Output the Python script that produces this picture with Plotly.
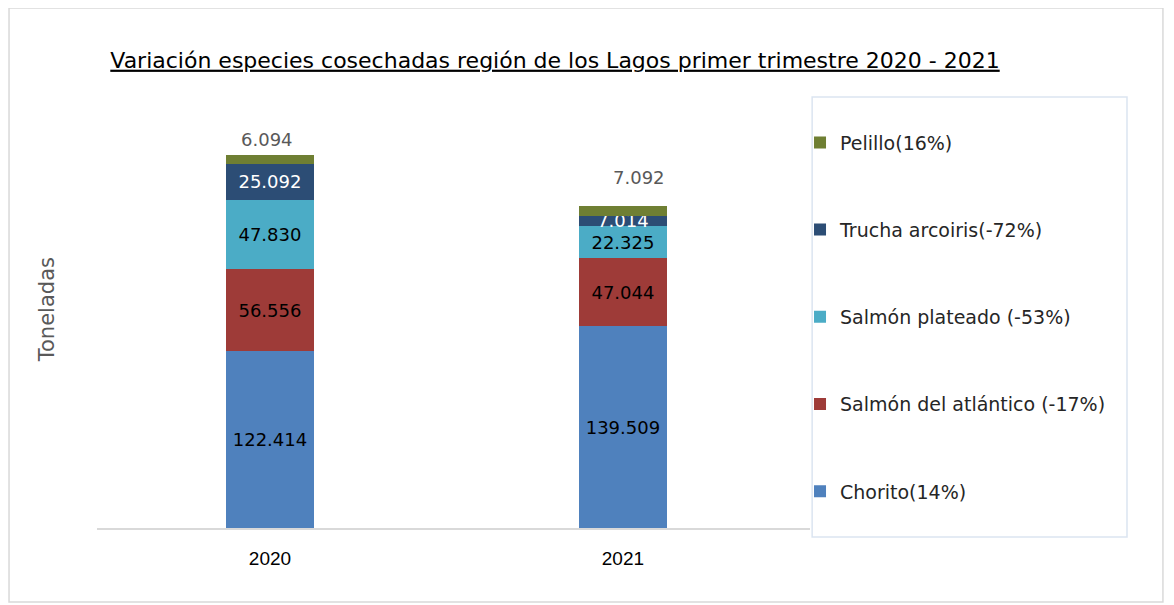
import plotly.graph_objects as go

years = ["2020", "2021"]
species = ["Chorito(14%)", "Salmón del atlántico (-17%)", "Salmón plateado (-53%)",
           "Trucha arcoiris(-72%)", "Pelillo(16%)"]
chorito = [122414, 139509]
salmon_atlantico = [56556, 47044]
salmon_plateado = [47830, 22325]
trucha = [25092, 7014]
pelillo = [6094, 7092]

series = [chorito, salmon_atlantico, salmon_plateado, trucha, pelillo]
colors = ["#4f81bd", "#9e3b38", "#4bacc6", "#2c4d75", "#6f7f33"]
text_colors = ["#000000", "#000000", "#000000", "#ffffff", None]

FONT = "DejaVu Sans"

def fmt(v):
    return f"{v:,}".replace(",", ".")

fig = go.Figure()
n = len(species)
for i, (name, vals) in enumerate(zip(species, series)):
    show_text = text_colors[i] is not None
    fig.add_trace(go.Bar(
        x=years, y=vals, name=name, legendgroup=name, legendrank=n - i,
        marker=dict(color=colors[i], line=dict(width=0)),
        width=0.25,
        text=[fmt(v) for v in vals] if show_text else None,
        textposition="inside" if show_text else "none",
        insidetextanchor="middle",
        textfont=dict(family=FONT, size=18, color=text_colors[i] or "#000"),
        hoverinfo="x+y+name",
    ))

totals = [sum(s[j] for s in series) for j in range(len(years))]
shifts = [(-3, 3), (16, 16)]
for j, yr in enumerate(years):
    fig.add_annotation(x=j, y=totals[j], text=fmt(pelillo[j]), showarrow=False,
                       xanchor="center", yanchor="bottom", xshift=shifts[j][0], yshift=shifts[j][1],
                       font=dict(family=FONT, size=18, color="#595959"))

fig.add_annotation(xref="paper", yref="paper", x=-0.070, y=0.509, text="Toneladas",
                   textangle=-90, showarrow=False, xanchor="center", yanchor="middle",
                   font=dict(family=FONT, size=21, color="#595959"))

# legend box and outer border
fig.add_shape(type="rect", xref="paper", yref="paper", x0=1.003, x1=1.4446, y0=-0.021, y1=1.007,
              line=dict(color="#dbe5f1", width=1.5), fillcolor="rgba(0,0,0,0)", layer="below")
fig.add_shape(type="rect", xref="paper", yref="paper", x0=-0.1234, x1=1.495, y0=-0.1729, y1=1.215,
              line=dict(color="#d9d9d9", width=1.5), fillcolor="rgba(0,0,0,0)", layer="below")

fig.update_layout(
    width=1174, height=605,
    barmode="stack",
    separators=",.",
    paper_bgcolor="white", plot_bgcolor="white",
    margin=dict(l=89, r=372, t=92, b=85),
    title=dict(text="<u>Variación especies cosechadas región de los Lagos primer trimestre 2020 - 2021</u>",
               x=(555 - 8) / 1174, xanchor="center", y=1 - 52 / 605, yanchor="middle",
               font=dict(family=FONT, size=22, color="#000000")),
    xaxis=dict(type="category", range=[-0.49, 1.53], showgrid=False, showline=True,
               linecolor="#d9d9d9", linewidth=1.5, ticks="", ticklabelstandoff=12,
               tickfont=dict(family="Liberation Sans Narrow, Liberation Sans", size=19, color="#000"),
               fixedrange=True),
    yaxis=dict(range=[0, 296000], visible=False, fixedrange=True),
    uniformtext=dict(minsize=18, mode="show"),
    legend=dict(x=0.986, xanchor="left", y=0.945, yanchor="top",
                traceorder="grouped", tracegroupgap=59.5,
                font=dict(family=FONT, size=19, color="#262626"),
                bgcolor="rgba(0,0,0,0)", itemwidth=30),
    showlegend=True,
)

fig.write_html("out.html")
